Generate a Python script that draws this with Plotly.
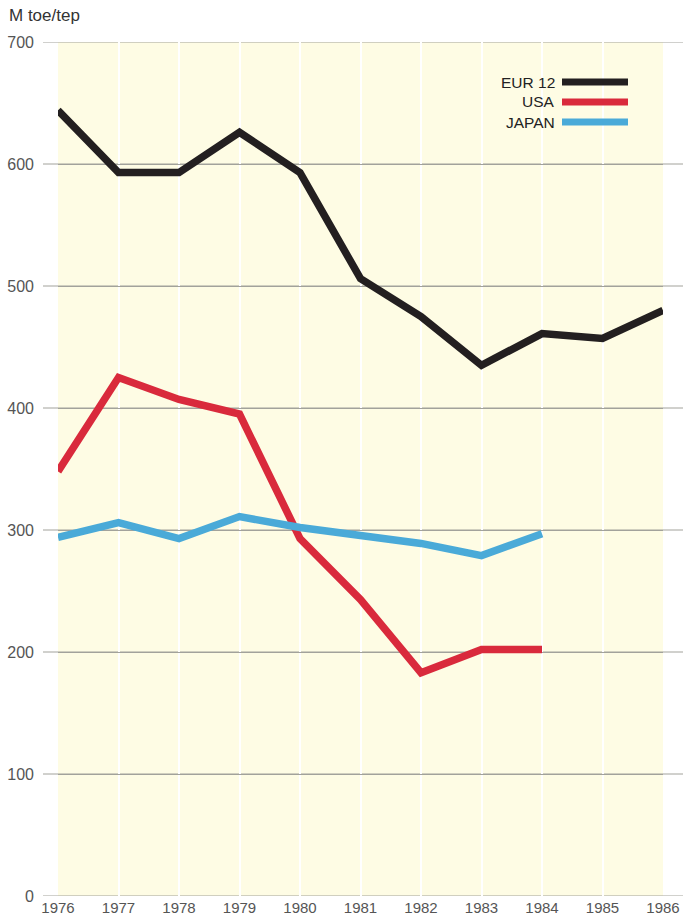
import plotly.graph_objects as go

years = [1976, 1977, 1978, 1979, 1980, 1981, 1982, 1983, 1984, 1985, 1986]
eur12 = [644, 593, 593, 626, 593, 506, 475, 435, 461, 457, 480]
usa = [348, 425, 407, 395, 293, 243, 183, 202, 202]
japan = [294, 306, 293, 311, 302, 296, 289, 279, 297]

series_names = ["EUR 12", "USA", "JAPAN"]
series_values = [eur12, usa, japan]
series_colors = ["#231f20", "#d92a3c", "#4aaad8"]

y_ticks = [0, 100, 200, 300, 400, 500, 600, 700]
y_title = "M toe/tep"

FONT = "Liberation Sans, Arial, sans-serif"
W, H = 683, 917
ML, MR, MT, MB = 58, 20, 42, 21
PW = W - ML - MR
PH = H - MT - MB

fig = go.Figure()
for name, vals, col in zip(series_names, series_values, series_colors):
    fig.add_trace(go.Scatter(
        x=years[:len(vals)], y=vals, mode="lines", name=name,
        line=dict(color=col, width=7.5), showlegend=False,
        hoverinfo="x+y+name"))

shapes = []
# horizontal gridlines extending beyond the plot area
for v in y_ticks:
    shapes.append(dict(type="line", xref="paper", yref="y",
                       x0=-15 / PW, x1=1 + MR / PW, y0=v, y1=v,
                       line=dict(color="#a2a29b", width=1), layer="below"))

annotations = [dict(text=y_title, xref="paper", yref="paper",
                    x=-51 / PW, y=1 + 26 / PH, xanchor="left",
                    yanchor="middle", showarrow=False,
                    font=dict(family=FONT, size=17, color="#333"))]
# custom legend (text left of line)
leg_y = [82, 102, 122]
for name, col, yy in zip(series_names, series_colors, leg_y):
    ypaper = 1 - (yy - MT) / PH
    shapes.append(dict(type="line", xref="paper", yref="paper",
                       x0=(562 - ML) / PW, x1=(628 - ML) / PW,
                       y0=ypaper, y1=ypaper,
                       line=dict(color=col, width=7), layer="above"))
    annotations.append(dict(text=name, xref="paper", yref="paper",
                            x=(557 - ML) / PW, y=ypaper, xanchor="right",
                            yanchor="middle", showarrow=False,
                            font=dict(family=FONT, size=15.5, color="#222")))

fig.update_layout(
    width=W, height=H,
    margin=dict(l=ML, r=MR, t=MT, b=MB, autoexpand=False),
    paper_bgcolor="white",
    plot_bgcolor="#fefce4",
    font=dict(family=FONT, color="#444"),
    shapes=shapes,
    annotations=annotations,
    xaxis=dict(range=[1976, 1986], tickvals=years,
               ticktext=[str(y) for y in years],
               showgrid=True, gridcolor="#ffffff", gridwidth=2,
               zeroline=False, showline=False, ticks="",
               automargin=False, ticklabelstandoff=1,
               tickfont=dict(family=FONT, size=15, color="#555"),
               fixedrange=True),
    yaxis=dict(range=[0, 700], tickvals=y_ticks,
               showgrid=True, gridcolor="#a2a29b", gridwidth=1,
               zeroline=False, showline=False, ticks="",
               automargin=False, ticklabelstandoff=23,
               tickfont=dict(family=FONT, size=16, color="#555"),
               fixedrange=True),
)

fig.write_html(
    "out.html",
    config={"displayModeBar": False},
    post_script="document.body.style.margin='0';document.body.style.padding='0';"
                "document.body.style.overflow='hidden';",
)
